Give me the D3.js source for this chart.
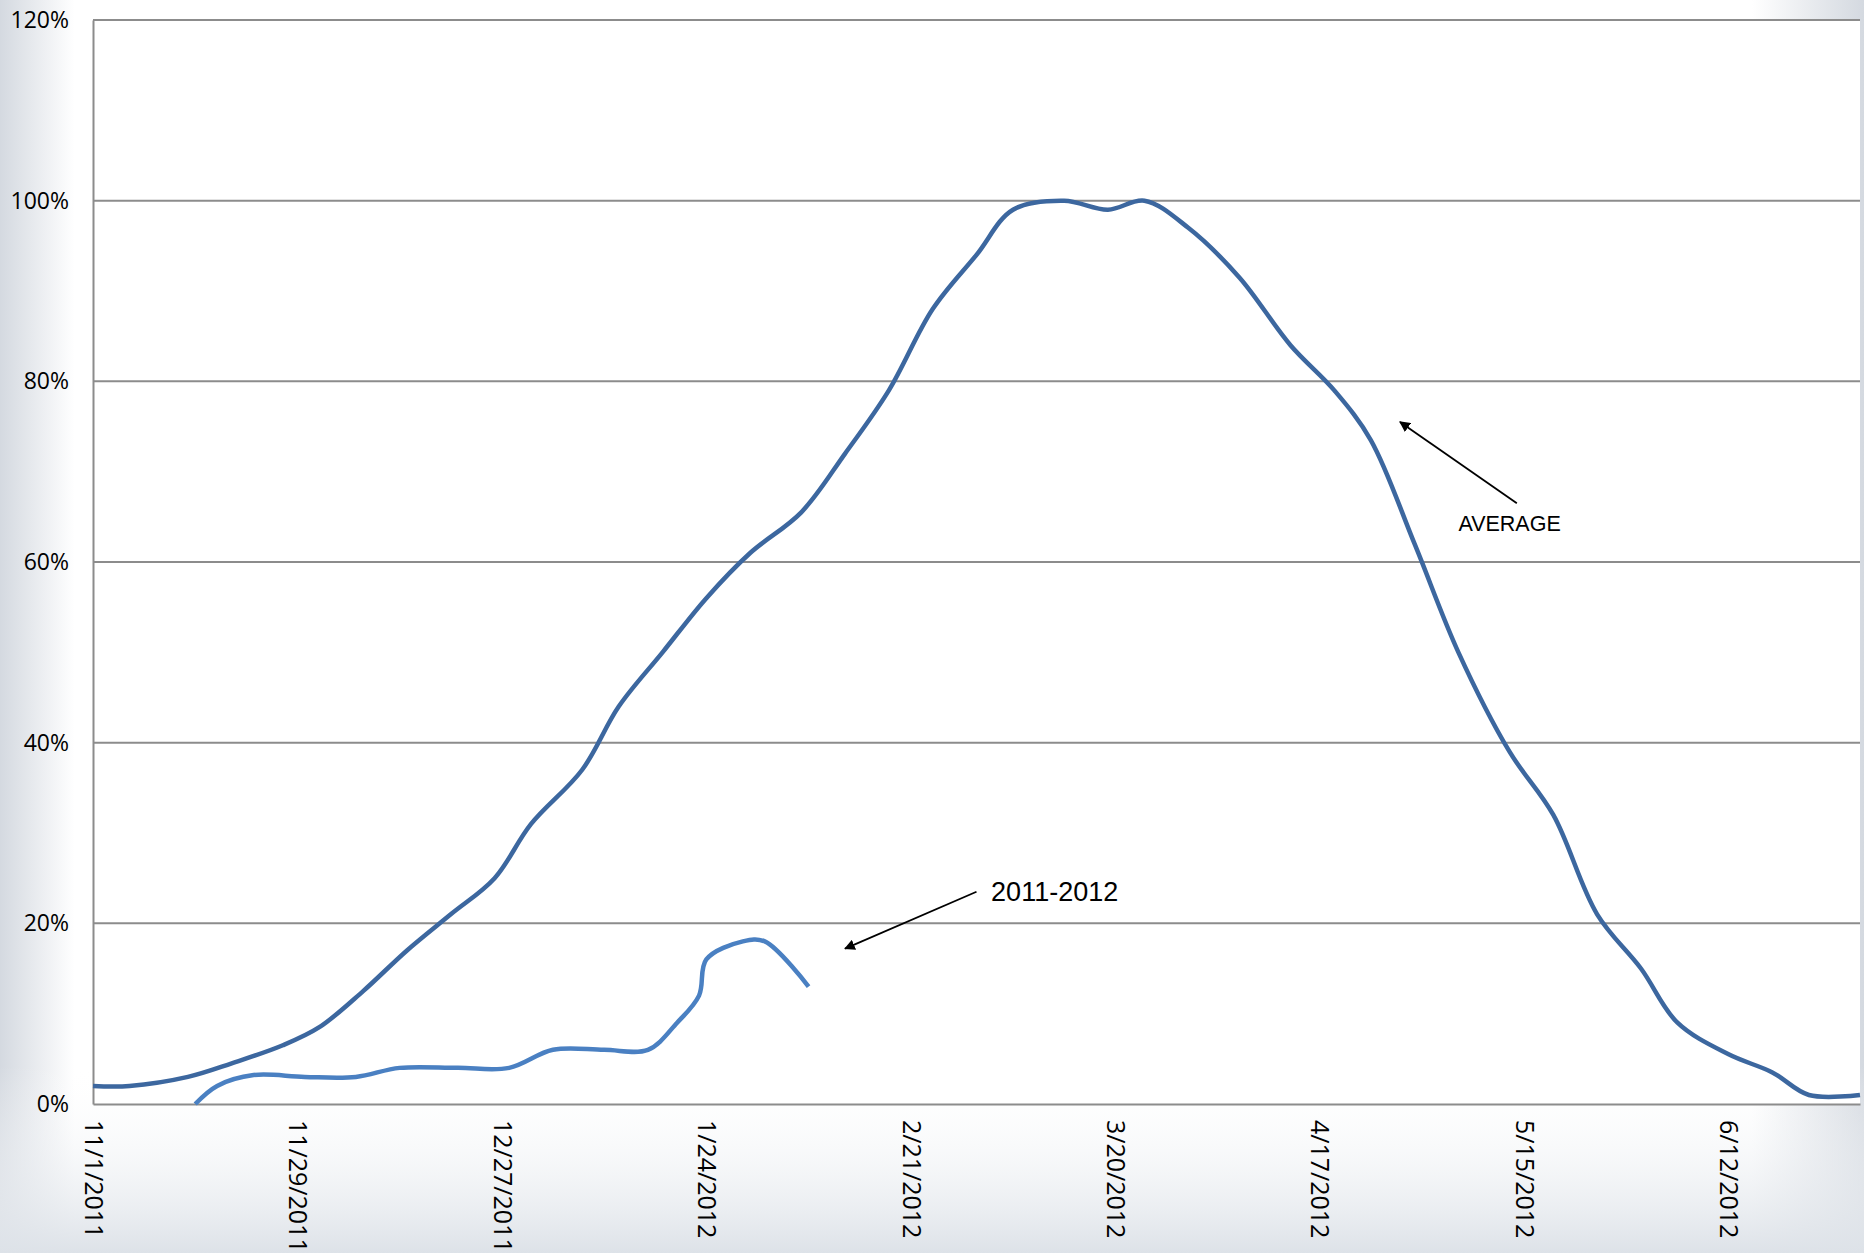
<!DOCTYPE html>
<html><head><meta charset="utf-8">
<script src="https://cdn.jsdelivr.net/npm/d3@7"></script>
<style>
body{margin:0;overflow:hidden;background:#fff;}
</style></head>
<body>
<div id="chart"></div>
<script>
var avgDates = ["2011-11-01","2011-11-06","2011-11-14","2011-11-20","2011-11-27","2011-12-02","2011-12-08","2011-12-14","2011-12-20","2011-12-26","2011-12-31","2012-01-07","2012-01-12","2012-01-18","2012-01-24","2012-01-30","2012-02-06","2012-02-12","2012-02-18","2012-02-24","2012-03-01","2012-03-06","2012-03-13","2012-03-19","2012-03-24","2012-03-30","2012-04-06","2012-04-13","2012-04-19","2012-04-24","2012-04-30","2012-05-06","2012-05-13","2012-05-19","2012-05-25","2012-05-31","2012-06-05","2012-06-12","2012-06-18","2012-06-23","2012-06-30"];
var avgValues = [2,2,3,4.5,6.5,8.5,12.5,17,21,25,31,37,44,50,56,61,65.5,72,79,88,94,99,100,99,100,97,91.5,84,79,73.5,62,50,39,32,21,15,9,5.5,3.5,1,1];
var curDates = ["2011-11-15","2011-11-18","2011-11-23","2011-11-30","2011-12-07","2011-12-13","2011-12-21","2011-12-28","2012-01-03","2012-01-10","2012-01-16","2012-01-20","2012-01-23","2012-01-24","2012-01-29","2012-02-01","2012-02-07"];
var curValues = [0,2,3.2,3,3,4,4,4,6,6,6,9,12,16,18,18,13];
var yTicks = [0,20,40,60,80,100,120];

var W = 1864, H = 1253;
var margin = {top: 20, right: 4, bottom: 149, left: 93};
var width = W - margin.left - margin.right;
var height = H - margin.top - margin.bottom;
var parse = d3.timeParse("%Y-%m-%d");

var svg = d3.select("#chart").append("svg").attr("width", W).attr("height", H);
var defs = svg.append("defs");
var gr = defs.append("linearGradient").attr("id", "bgx");
gr.append("stop").attr("offset", "0").attr("stop-color", "#d4d9e0");
gr.append("stop").attr("offset", "0.04").attr("stop-color", "#ffffff");
gr.append("stop").attr("offset", "0.94").attr("stop-color", "#ffffff");
gr.append("stop").attr("offset", "1").attr("stop-color", "#d4d9e0");
svg.append("rect").attr("width", W).attr("height", H).attr("fill", "url(#bgx)");
var gb = defs.append("linearGradient").attr("id", "bgy").attr("x2", 0).attr("y2", 1);
gb.append("stop").attr("offset", "0.85").attr("stop-color", "#ffffff").attr("stop-opacity", 0);
gb.append("stop").attr("offset", "1").attr("stop-color", "#dde2e8").attr("stop-opacity", 1);
svg.append("rect").attr("width", W).attr("height", H).attr("fill", "url(#bgy)");
svg.append("rect").attr("x", margin.left).attr("y", margin.top).attr("width", width).attr("height", height).attr("fill", "#fff");

var g = svg.append("g").attr("transform", "translate(" + margin.left + "," + margin.top + ")");

var x = d3.scaleTime().domain([parse("2011-11-01"), parse("2012-06-30")]).range([0, width]);
var y = d3.scaleLinear().domain([0, 120]).range([height, 0]);

// gridlines
g.selectAll(".grid").data(yTicks.slice(1)).enter().append("line")
    .attr("x1", 0).attr("x2", width)
    .attr("y1", (d) => y(d)).attr("y2", (d) => y(d))
    .attr("stroke", "#8c8c8c").attr("stroke-width", 2);

var xTicks = d3.range(0, 9).map((i) => d3.timeDay.offset(parse("2011-11-01"), i * 28));

var yAxis = g.append("g").call(d3.axisLeft(y).tickValues(yTicks).tickSize(0).tickPadding(24).tickFormat((d) => d + "%"));
yAxis.select(".domain").attr("stroke", "#8c8c8c").attr("stroke-width", 2);
yAxis.selectAll("text").attr("font-family", "Open Sans").attr("font-size", "23px").attr("fill", "#000");

var xAxis = g.append("g").attr("transform", "translate(0," + height + ")")
    .call(d3.axisBottom(x).tickValues(xTicks).tickSize(0).tickFormat(d3.timeFormat("%-m/%-d/%Y")));
xAxis.select(".domain").attr("stroke", "#8c8c8c").attr("stroke-width", 2);
xAxis.selectAll("text")
    .attr("font-family", "Open Sans").attr("font-size", "25px").attr("fill", "#000")
    .attr("text-anchor", "start").attr("dy", "0.35em")
    .attr("transform", "translate(0,16) rotate(90)").attr("x", 0).attr("y", 0);

var line = d3.line().x((d) => x(d[0])).y((d) => y(d[1])).curve(d3.curveCatmullRom.alpha(0.5));

g.append("path").datum(avgDates.map((d, i) => [parse(d), avgValues[i]]))
    .attr("d", line).attr("fill", "none").attr("stroke", "#3c679f").attr("stroke-width", 4.5);
g.append("path").datum(curDates.map((d, i) => [parse(d), curValues[i]]))
    .attr("d", line).attr("fill", "none").attr("stroke", "#4a80c2").attr("stroke-width", 4.5);

// annotations
defs.append("marker").attr("id", "arr").attr("viewBox", "0 0 10 10").attr("refX", 9).attr("refY", 5)
    .attr("markerWidth", 6).attr("markerHeight", 6).attr("orient", "auto")
    .append("path").attr("d", "M0,0L10,5L0,10z").attr("fill", "#000");

function annot(x1, y1, x2, y2, tx, ty, txt, fs) {
    g.append("line").attr("x1", x(parse(x1))).attr("y1", y(y1)).attr("x2", x(parse(x2))).attr("y2", y(y2))
        .attr("stroke", "#000").attr("stroke-width", 1.8).attr("marker-end", "url(#arr)");
    g.append("text").attr("x", x(parse(tx))).attr("y", y(ty)).attr("font-family", "Liberation Sans")
        .attr("font-size", fs).attr("fill", "#000").text(txt);
}
annot("2012-05-14", 66.5, "2012-04-28", 75.5, "2012-05-06", 63.4, "AVERAGE", "21.5px");
annot("2012-03-01", 23.5, "2012-02-12", 17.2, "2012-03-03", 22.5, "2011-2012", "27px");
</script>
</body></html>
